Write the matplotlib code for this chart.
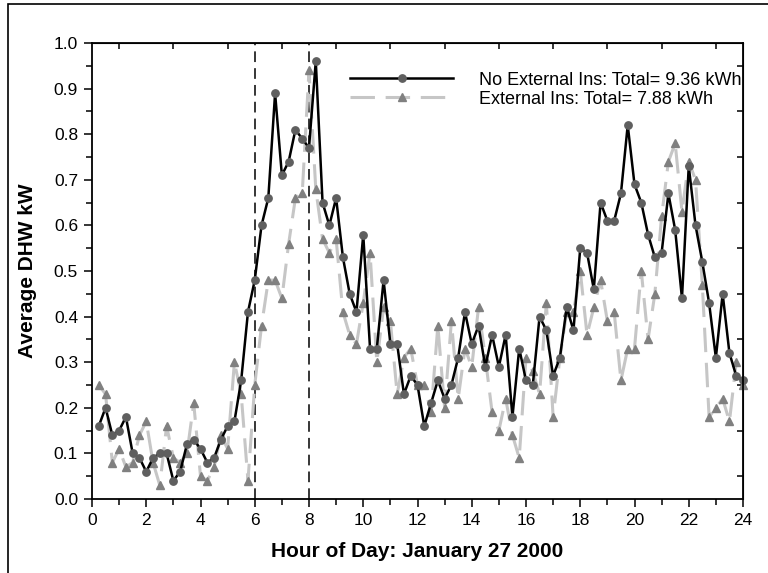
import numpy as np
import matplotlib.pyplot as plt
from matplotlib.patches import Rectangle
from matplotlib.ticker import MultipleLocator, NullLocator

plt.rcParams['font.family'] = ['Liberation Sans', 'DejaVu Sans']

# 15-minute averages over the day
hours = np.arange(1, 97) * 0.25

no_ext = [0.16, 0.20, 0.14, 0.15, 0.18, 0.10, 0.09, 0.06,
          0.09, 0.10, 0.10, 0.04, 0.06, 0.12, 0.13, 0.11,
          0.08, 0.09, 0.13, 0.16, 0.17, 0.26, 0.41, 0.48,
          0.60, 0.66, 0.89, 0.71, 0.74, 0.81, 0.79, 0.77,
          0.96, 0.65, 0.60, 0.66, 0.53, 0.45, 0.41, 0.58,
          0.33, 0.33, 0.48, 0.34, 0.34, 0.23, 0.27, 0.25,
          0.16, 0.21, 0.26, 0.22, 0.25, 0.31, 0.41, 0.34,
          0.38, 0.29, 0.36, 0.29, 0.36, 0.18, 0.33, 0.26,
          0.25, 0.40, 0.37, 0.27, 0.31, 0.42, 0.37, 0.55,
          0.54, 0.46, 0.65, 0.61, 0.61, 0.67, 0.82, 0.69,
          0.65, 0.58, 0.53, 0.54, 0.67, 0.59, 0.44, 0.73,
          0.60, 0.52, 0.43, 0.31, 0.45, 0.32, 0.27, 0.26]

ext = [0.25, 0.23, 0.08, 0.11, 0.07, 0.08, 0.14, 0.17,
       0.08, 0.03, 0.16, 0.09, 0.08, 0.10, 0.21, 0.05,
       0.04, 0.07, 0.14, 0.11, 0.30, 0.23, 0.04, 0.25,
       0.38, 0.48, 0.48, 0.44, 0.56, 0.66, 0.67, 0.94,
       0.68, 0.57, 0.54, 0.57, 0.41, 0.36, 0.34, 0.43,
       0.54, 0.30, 0.42, 0.39, 0.23, 0.31, 0.33, 0.25,
       0.25, 0.19, 0.38, 0.20, 0.39, 0.22, 0.33, 0.29,
       0.42, 0.31, 0.19, 0.15, 0.22, 0.14, 0.09, 0.31,
       0.28, 0.23, 0.43, 0.18, 0.31, 0.41, 0.41, 0.50,
       0.36, 0.42, 0.48, 0.39, 0.41, 0.26, 0.33, 0.33,
       0.50, 0.35, 0.45, 0.62, 0.74, 0.78, 0.63, 0.74,
       0.70, 0.47, 0.18, 0.20, 0.22, 0.17, 0.30, 0.25]

fig = plt.figure(figsize=(7.68, 5.73), dpi=100)
ax = fig.add_axes([92 / 768, 1 - 499 / 573, (743 - 92) / 768, (499 - 43) / 573])

# frame around the figure
fig.patches.append(Rectangle((8 / 768, -0.1), 1.2, 1.1 - 5 / 573 + 0.001,
                             transform=fig.transFigure, fill=False,
                             edgecolor='black', linewidth=1.2))

ax.axvline(6, color='black', linestyle=(0, (7, 4)), linewidth=1.1)
ax.axvline(8, color='black', linestyle=(0, (7, 4)), linewidth=1.1)

ax.plot(hours, ext, color='#c6c6c6', linewidth=2.2, dashes=(8, 3.5),
        marker='^', markersize=6, markerfacecolor='#808080',
        markeredgecolor='#808080', clip_on=False,
        label='External Ins: Total= 7.88 kWh')
ax.plot(hours, no_ext, color='black', linewidth=1.8,
        marker='o', markersize=5.3, markerfacecolor='#5f5f5f',
        markeredgecolor='#5f5f5f', clip_on=False,
        label='No External Ins: Total= 9.36 kWh')

ax.set_xlim(0, 24)
ax.set_ylim(0, 1.0)
ax.xaxis.set_major_locator(MultipleLocator(2))
ax.xaxis.set_minor_locator(MultipleLocator(1))
ax.yaxis.set_major_locator(MultipleLocator(0.1))
ax.yaxis.set_minor_locator(MultipleLocator(0.05))
ax.yaxis.set_major_formatter('{x:.1f}')
ax.tick_params(which='major', direction='out', length=6, width=1.1,
               labelsize=12.5, pad=4)
ax.tick_params(which='minor', direction='out', length=4, width=1.1)
for sp in ax.spines.values():
    sp.set_linewidth(1.3)

# top and right axes carry only inward ticks between the labelled ones
top = ax.secondary_xaxis('top')
top.set_xticks(np.arange(1, 24, 2), labels=[])
top.xaxis.set_minor_locator(NullLocator())
top.tick_params(direction='in', length=4.5, width=1.1)
right = ax.secondary_yaxis('right')
right.set_yticks(np.arange(0.05, 1.0, 0.1), labels=[])
right.yaxis.set_minor_locator(NullLocator())
right.tick_params(direction='in', length=4.5, width=1.1)

ax.set_xlabel('Hour of Day: January 27 2000', fontsize=15, fontweight='bold',
              labelpad=10)
ax.set_ylabel('Average DHW kW', fontsize=15, fontweight='bold', labelpad=12)

handles, labels = ax.get_legend_handles_labels()
ax.legend(handles[::-1], labels[::-1], loc='upper right',
          bbox_to_anchor=(0.997, 0.937), frameon=False, fontsize=13,
          handlelength=5.7, handletextpad=1.4, labelspacing=0.1,
          borderaxespad=0, borderpad=0)

fig.savefig('out.png', dpi=100)
